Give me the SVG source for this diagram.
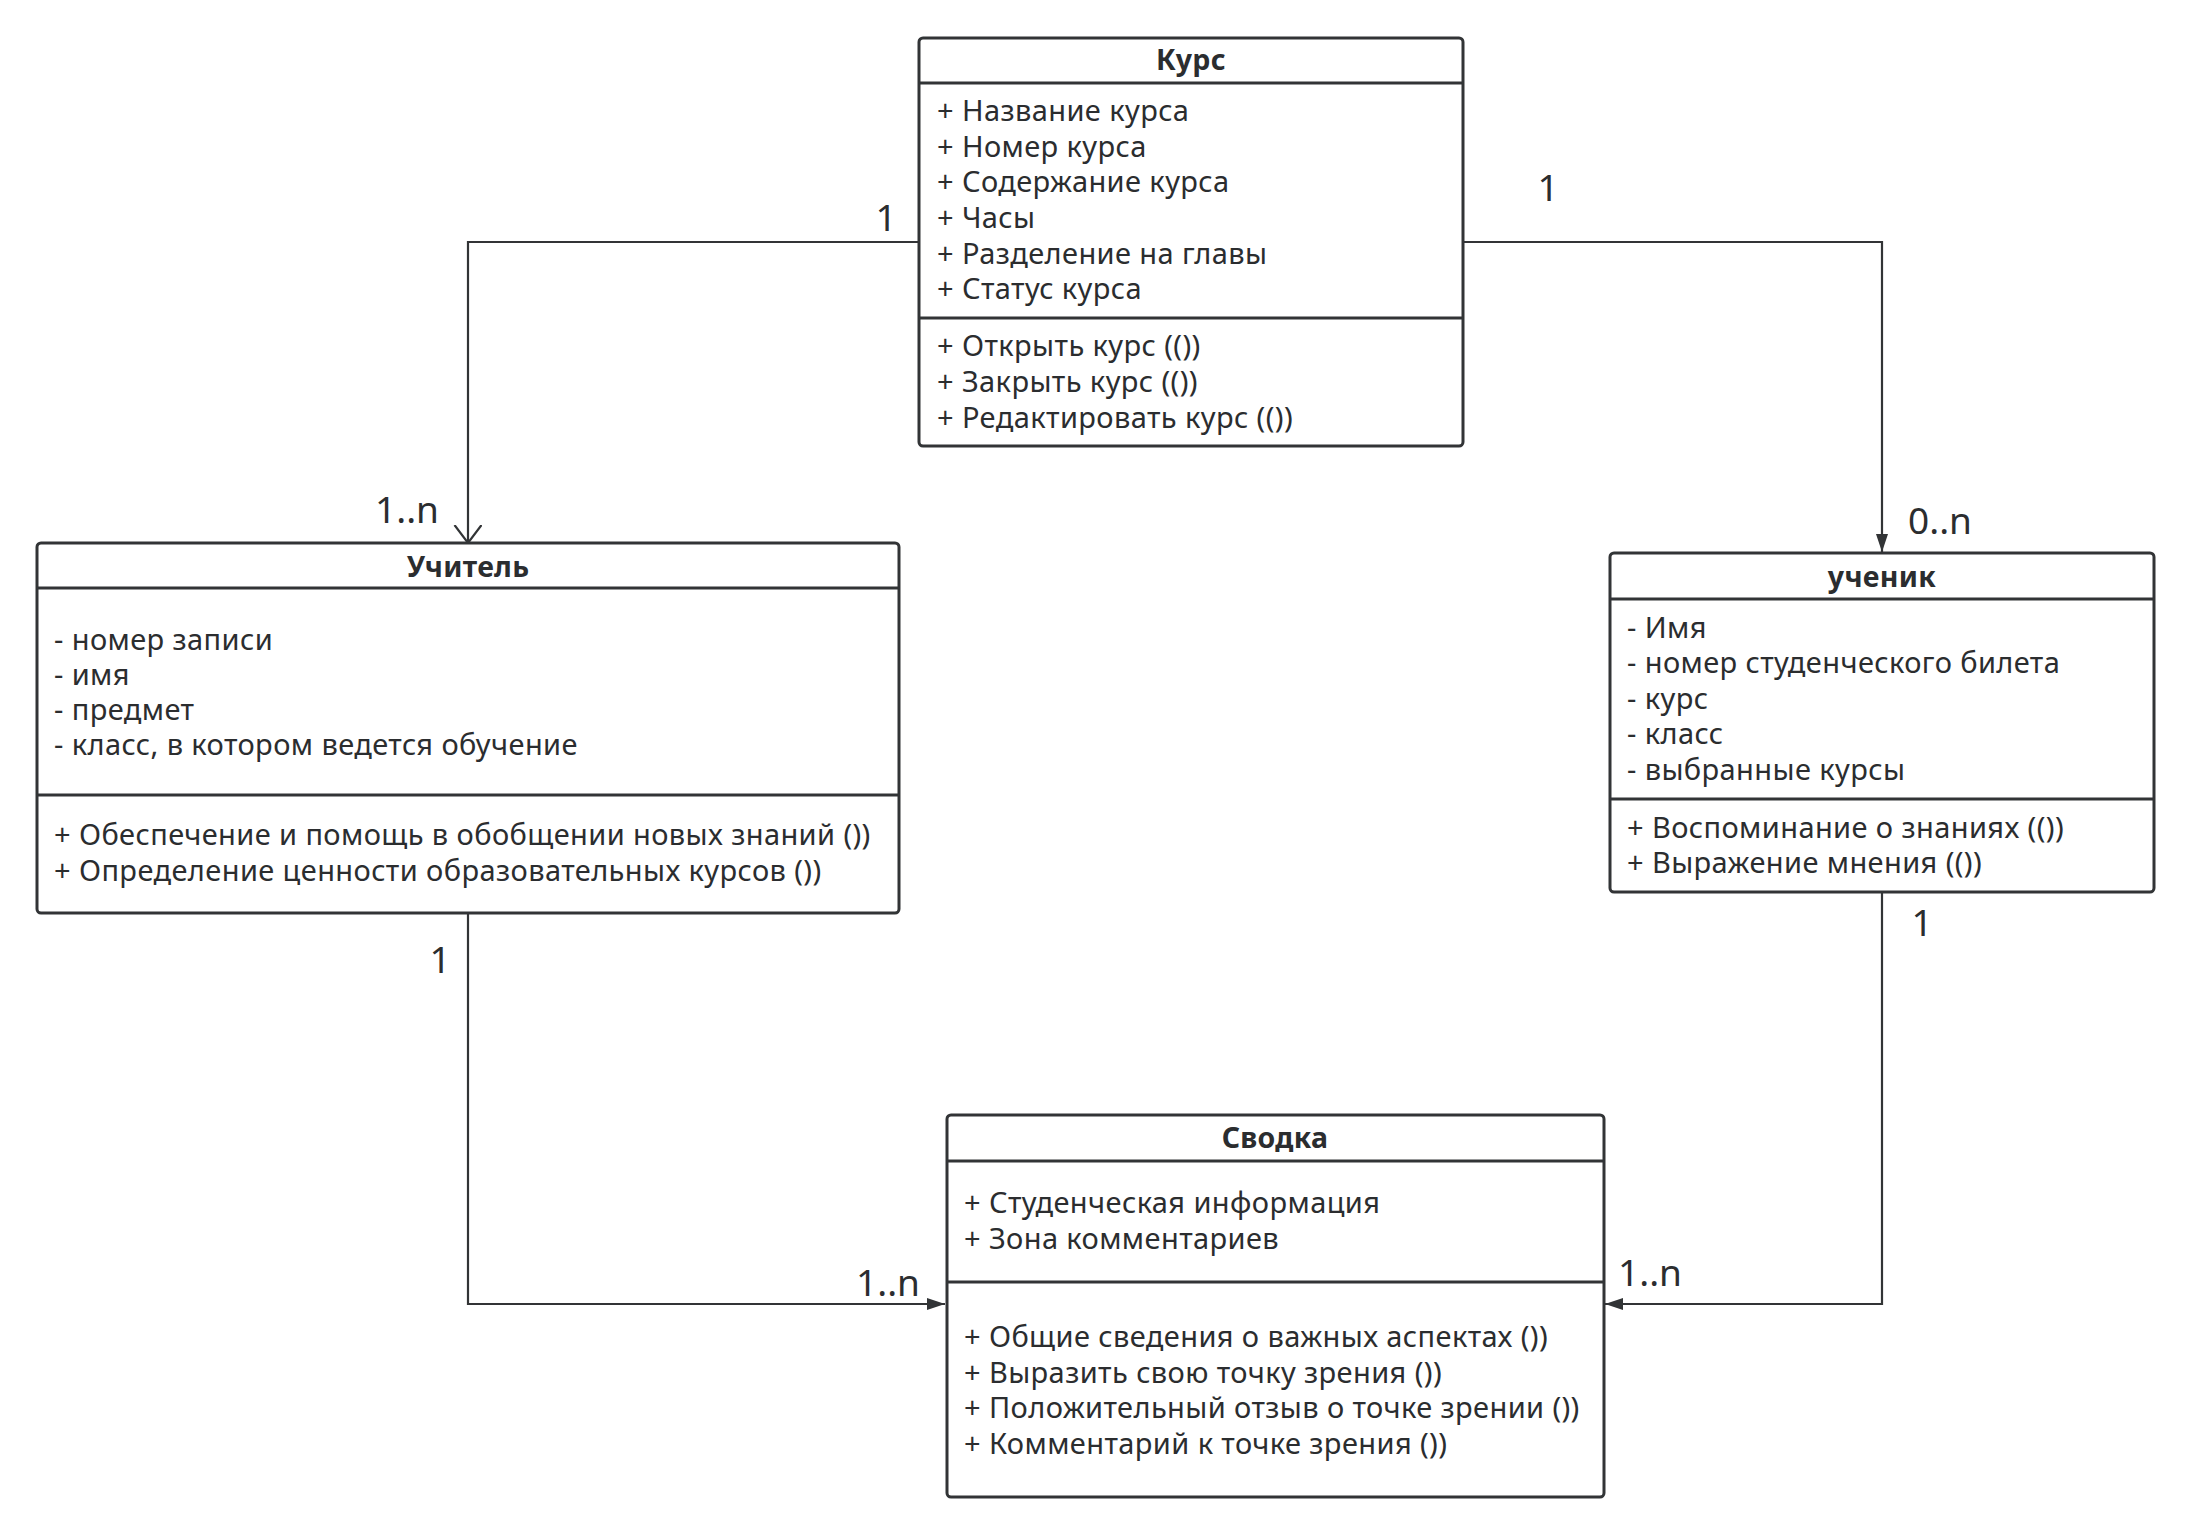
<svg xmlns="http://www.w3.org/2000/svg" width="2190" height="1533" viewBox="0 0 2190 1533">
<style>
.box{fill:#ffffff;stroke:#323436;stroke-width:3}
.sep{stroke:#323436;stroke-width:3}
.t{font-family:"Noto Sans","Liberation Sans",sans-serif;font-size:29px;letter-spacing:0.4px;fill:#2b2d2f}
.title{font-family:"Noto Sans","Liberation Sans",sans-serif;font-size:28.5px;letter-spacing:0.3px;font-weight:bold;fill:#2b2d2f;text-anchor:middle}
.conn{fill:none;stroke:#323436;stroke-width:2.2}
.lbl{font-family:"Noto Sans","Liberation Sans",sans-serif;font-size:37px;fill:#2b2d2f;text-anchor:middle}
</style>
<defs>
<marker id="open" markerUnits="userSpaceOnUse" markerWidth="20" markerHeight="30" refX="18" refY="13.5" orient="auto" viewBox="0 0 20 30">
<path d="M0,0 L18,13.5 L0,27" fill="none" stroke="#323436" stroke-width="2.2"/>
</marker>
<marker id="fill" markerUnits="userSpaceOnUse" markerWidth="20" markerHeight="14" refX="18" refY="6" orient="auto" viewBox="0 0 20 14">
<path d="M0,0 L18,6 L0,12 z" fill="#323436"/>
</marker>
</defs>
<rect width="2190" height="1533" fill="#ffffff"/>
<g id="connectors">
<path class="conn" d="M919,242 H468 V543" marker-end="url(#open)"/>
<path class="conn" d="M1463,242 H1882 V552" marker-end="url(#fill)"/>
<path class="conn" d="M468,913 V1304 H945" marker-end="url(#fill)"/>
<path class="conn" d="M1882,892 V1304 H1605" marker-end="url(#fill)"/>
<text class="lbl" x="886" y="231">1</text>
<text class="lbl" x="407" y="523">1..n</text>
<text class="lbl" x="1548" y="201">1</text>
<text class="lbl" x="1940" y="534">0..n</text>
<text class="lbl" x="440" y="973">1</text>
<text class="lbl" x="888" y="1296">1..n</text>
<text class="lbl" x="1922" y="936">1</text>
<text class="lbl" x="1650" y="1286">1..n</text>
</g>
<g id="node-kurs">
<rect class="box" x="919" y="38" width="544" height="408" rx="4"/>
<line class="sep" x1="919" y1="83" x2="1463" y2="83"/>
<line class="sep" x1="919" y1="318" x2="1463" y2="318"/>
<text class="title" x="1191" y="70">Курс</text>
<text class="t" x="937" y="121">+ Название курса</text>
<text class="t" x="937" y="157">+ Номер курса</text>
<text class="t" x="937" y="192">+ Содержание курса</text>
<text class="t" x="937" y="228">+ Часы</text>
<text class="t" x="937" y="264">+ Разделение на главы</text>
<text class="t" x="937" y="299">+ Статус курса</text>
<text class="t" x="937" y="356">+ Открыть курс (())</text>
<text class="t" x="937" y="392">+ Закрыть курс (())</text>
<text class="t" x="937" y="428">+ Редактировать курс (())</text>
</g>
<g id="node-uchitel">
<rect class="box" x="37" y="543" width="862" height="370" rx="4"/>
<line class="sep" x1="37" y1="588" x2="899" y2="588"/>
<line class="sep" x1="37" y1="795" x2="899" y2="795"/>
<text class="title" x="468" y="577">Учитель</text>
<text class="t" x="54" y="650">- номер записи</text>
<text class="t" x="54" y="685">- имя</text>
<text class="t" x="54" y="720">- предмет</text>
<text class="t" x="54" y="755">- класс, в котором ведется обучение</text>
<text class="t" x="54" y="845">+ Обеспечение и помощь в обобщении новых знаний ())</text>
<text class="t" x="54" y="881">+ Определение ценности образовательных курсов ())</text>
</g>
<g id="node-uchenik">
<rect class="box" x="1610" y="553" width="544" height="339" rx="4"/>
<line class="sep" x1="1610" y1="599" x2="2154" y2="599"/>
<line class="sep" x1="1610" y1="799" x2="2154" y2="799"/>
<text class="title" x="1882" y="587">ученик</text>
<text class="t" x="1627" y="638">- Имя</text>
<text class="t" x="1627" y="673">- номер студенческого билета</text>
<text class="t" x="1627" y="709">- курс</text>
<text class="t" x="1627" y="744">- класс</text>
<text class="t" x="1627" y="780">- выбранные курсы</text>
<text class="t" x="1627" y="838">+ Воспоминание о знаниях (())</text>
<text class="t" x="1627" y="873">+ Выражение мнения (())</text>
</g>
<g id="node-svodka">
<rect class="box" x="947" y="1115" width="657" height="382" rx="4"/>
<line class="sep" x1="947" y1="1161" x2="1604" y2="1161"/>
<line class="sep" x1="947" y1="1282" x2="1604" y2="1282"/>
<text class="title" x="1275" y="1148">Сводка</text>
<text class="t" x="964" y="1213">+ Студенческая информация</text>
<text class="t" x="964" y="1249">+ Зона комментариев</text>
<text class="t" x="964" y="1347">+ Общие сведения о важных аспектах ())</text>
<text class="t" x="964" y="1383">+ Выразить свою точку зрения ())</text>
<text class="t" x="964" y="1418">+ Положительный отзыв о точке зрении ())</text>
<text class="t" x="964" y="1454">+ Комментарий к точке зрения ())</text>
</g>
</svg>
